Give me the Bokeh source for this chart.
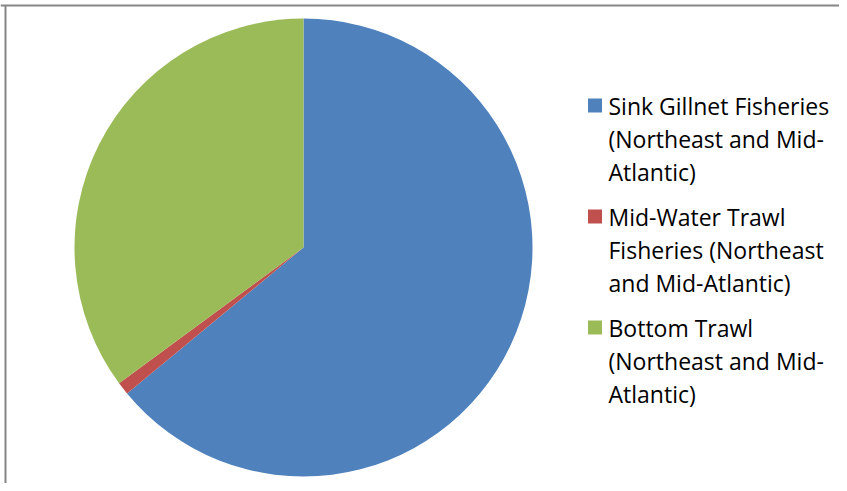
import math
from bokeh.plotting import figure
from bokeh.models import Range1d
from bokeh.core.properties import value
from bokeh.embed import file_html
from bokeh.resources import INLINE

# Data
categories = [
    "Sink Gillnet Fisheries (Northeast and Mid-Atlantic)",
    "Mid-Water Trawl Fisheries (Northeast and Mid-Atlantic)",
    "Bottom Trawl (Northeast and Mid-Atlantic)",
]
legend_lines = [
    ["Sink Gillnet Fisheries", "(Northeast and Mid-", "Atlantic)"],
    ["Mid-Water Trawl", "Fisheries (Northeast", "and Mid-Atlantic)"],
    ["Bottom Trawl", "(Northeast and Mid-", "Atlantic)"],
]
shares = [64.0, 0.9, 35.1]
colors = ["#4F81BD", "#C0504D", "#9BBB59"]

W, H = 839, 483
p = figure(width=W, height=H, output_backend="svg", toolbar_location=None,
           x_range=Range1d(0, W), y_range=Range1d(0, H),
           x_axis_location=None, y_axis_location=None, min_border=0,
           outline_line_color=None)
p.grid.visible = False
p.background_fill_color = "white"

# frame lines (top and left)
p.line(x=[0, W], y=[H - 5, H - 5], line_color="#868686", line_width=2)
p.line(x=[5, 5], y=[0, H - 5], line_color="#868686", line_width=2)

cx, cy, r = 303, 236, 229
total = sum(shares)
starts, ends = [], []
cum = 0.0
for s in shares:
    starts.append(math.pi / 2 - cum / total * 2 * math.pi)
    cum += s
    ends.append(math.pi / 2 - cum / total * 2 * math.pi)

p.wedge(x=[cx] * 3, y=[cy] * 3, radius=r, start_angle=starts, end_angle=ends,
        direction="clock", fill_color=colors, line_color=None)

# legend
lx_sq, lx_txt = 594.5, 608
first_y = [378, 267, 156]
line_gap = 33
for i, lines in enumerate(legend_lines):
    y0 = first_y[i]
    p.rect(x=[lx_sq], y=[y0], width=14, height=14, fill_color=colors[i], line_color=None)
    ys = [y0 - k * line_gap for k in range(len(lines))]
    p.text(x=[lx_txt] * len(lines), y=ys, text=lines, text_font=value("Open Sans"),
           text_font_size="23px", text_baseline="middle", text_align="left",
           text_color="#000000")

open("out.html", "w").write(file_html(p, INLINE))
